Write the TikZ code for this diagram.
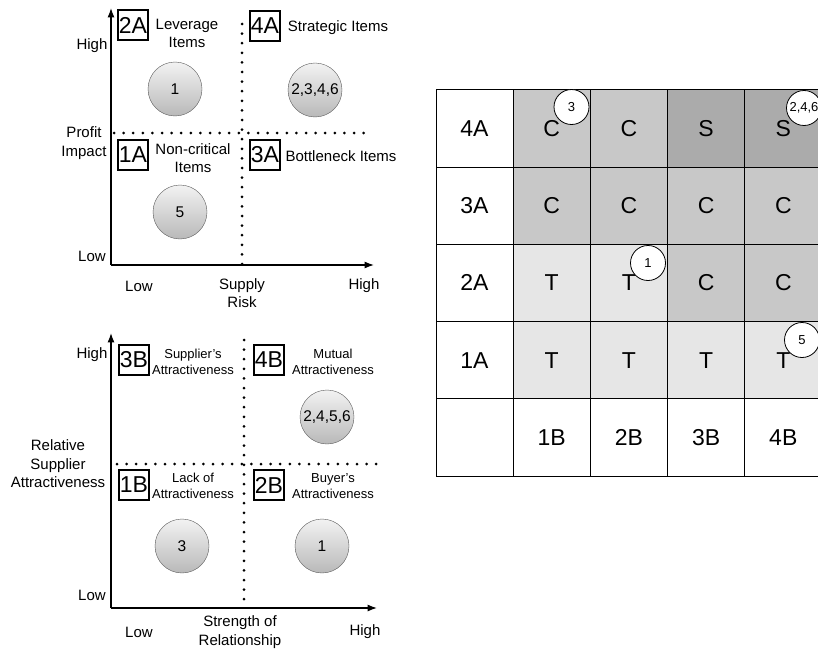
\documentclass[tikz,border=0pt]{standalone}
\usepackage{fontspec}
\setmainfont{Liberation Sans}
\usetikzlibrary{arrows.meta,positioning}
\definecolor{cellS}{HTML}{ABABAB}
\definecolor{cellC}{HTML}{C8C8C8}
\definecolor{cellT}{HTML}{E6E6E6}

\begin{document}
\begin{tikzpicture}[
  x=1pt, y=-1pt,
  >=Latex,
  every node/.style={font=\fontsize{15}{18.5}\selectfont, align=center, inner sep=0pt},
  axisLine/.style={->, line width=1.4pt},
  splitLine/.style={line width=3pt, line cap=round, dash pattern=on 0pt off 9.6pt},
  quadBox/.style={draw, line width=1.1pt, font=\fontsize{23}{24}\selectfont, minimum width=30pt, minimum height=30pt},
  quadLabel/.style={font=\fontsize{15}{18}\selectfont},
  smallLabel/.style={font=\fontsize{13}{16}\selectfont},
  itemBall/.style={circle, draw=gray!70!black, top color=gray!10, bottom color=gray!55, minimum size=54pt, font=\fontsize{15.5}{17}\selectfont},
  gridCell/.style={draw, line width=0.8pt, minimum size=77.2pt, font=\fontsize{23}{24}\selectfont},
  hitBall/.style={circle, draw, line width=0.8pt, fill=white, minimum size=35pt, font=\fontsize{13}{14}\selectfont}
]
\useasboundingbox (0,0) rectangle (818,650);

% portfolio matrix (buyer side)
\coordinate (pO) at (111,265);
\coordinate (pY) at (111,8);
\coordinate (pX) at (374,265);
\coordinate (pV1) at (242,24);
\coordinate (pV2) at (242,265);
\coordinate (pH1) at (114,133);
\coordinate (pH2) at (373,133);
\draw[splitLine] (pV1) -- (pV2);
\draw[splitLine] (pH1) -- (pH2);
\draw[axisLine] (pO) -- (pY);
\draw[axisLine] (pO) -- (pX);

\node (pHighY) at (92,46) {High};
\node (pLowY) at (92,256) {Low};
\node (pTitleY) at (84,143) {Profit\\Impact};
\node (pLowX) at (139,286) {Low};
\node (pTitleX) at (242,293) {Supply\\Risk};
\node (pHighX) at (364,286) {High};

\node[quadBox] (t2A) at (133,25) {2A};
\node[quadBox] (t4A) at (265,26) {4A};
\node[quadBox] (t1A) at (133,155) {1A};
\node[quadBox] (t3A) at (265,155) {3A};
\node[quadLabel] (l2A) at (187,33) {Leverage\\Items};
\node[quadLabel] (l4A) at (338,28) {Strategic Items};
\node[quadLabel] (l1A) at (193,158) {Non-critical\\Items};
\node[quadLabel] (l3A) at (341,156) {Bottleneck Items};

\node[itemBall] (pB1) at (175,89) {1};
\node[itemBall] (pB2346) at (315,90) {2,3,4,6};
\node[itemBall] (pB5) at (180,212) {5};

% attractiveness matrix (supplier side)
\coordinate (rO) at (111,608);
\coordinate (rY) at (111,333);
\coordinate (rX) at (377,608);
\coordinate (rV1) at (244,340);
\coordinate (rV2) at (244,608);
\coordinate (rH1) at (117,464);
\coordinate (rH2) at (377,464);
\draw[splitLine] (rV1) -- (rV2);
\draw[splitLine] (rH1) -- (rH2);
\draw[axisLine] (rO) -- (rY);
\draw[axisLine] (rO) -- (rX);

\node (rHighY) at (92,355) {High};
\node (rLowY) at (92,595) {Low};
\node (rTitleY) at (58,464) {Relative\\Supplier\\Attractiveness};
\node (rLowX) at (139,632) {Low};
\node (rTitleX) at (240,632) {Strength of\\Relationship};
\node (rHighX) at (365,632) {High};

\node[quadBox] (t3B) at (134,360) {3B};
\node[quadBox] (t4B) at (269,360) {4B};
\node[quadBox] (t1B) at (134,485) {1B};
\node[quadBox] (t2B) at (269,485) {2B};
\node[smallLabel] (l3B) at (193,362) {Supplier's\\Attractiveness};
\node[smallLabel] (l4B) at (333,362) {Mutual\\Attractiveness};
\node[smallLabel] (l1B) at (193,486) {Lack of\\Attractiveness};
\node[smallLabel] (l2B) at (333,486) {Buyer's\\Attractiveness};

\node[itemBall] (rB2456) at (327,417) {2,4,5,6};
\node[itemBall] (rB3) at (182,546) {3};
\node[itemBall] (rB1) at (322,546) {1};

% combined grid
\foreach \lab/\ca/\cb/\cc/\cd [count=\j from 0] in {4A/C/C/S/S, 3A/C/C/C/C, 2A/T/T/C/C, 1A/T/T/T/T}{
  \node[gridCell] (g\lab) at (474.5, 128.5+77.2*\j) {\lab};
  \foreach \v [count=\i] in {\ca,\cb,\cc,\cd}
    \node[gridCell, fill=cell\v] (g\lab-\i) at (474.5+77.2*\i, 128.5+77.2*\j) {\v};
}
\node[gridCell] (gCorner) at (474.5,437.3) {};
\foreach \lab [count=\i] in {1B,2B,3B,4B}
  \node[gridCell] (g\lab) at (474.5+77.2*\i, 437.3) {\lab};

\node[hitBall] (h3) at (571.5,107) {3};
\node[hitBall] (h246) at (804,108) {2,4,6};
\node[hitBall] (h1) at (648,263) {1};
\node[hitBall] (h5) at (802,340) {5};
\end{tikzpicture}
\end{document}
